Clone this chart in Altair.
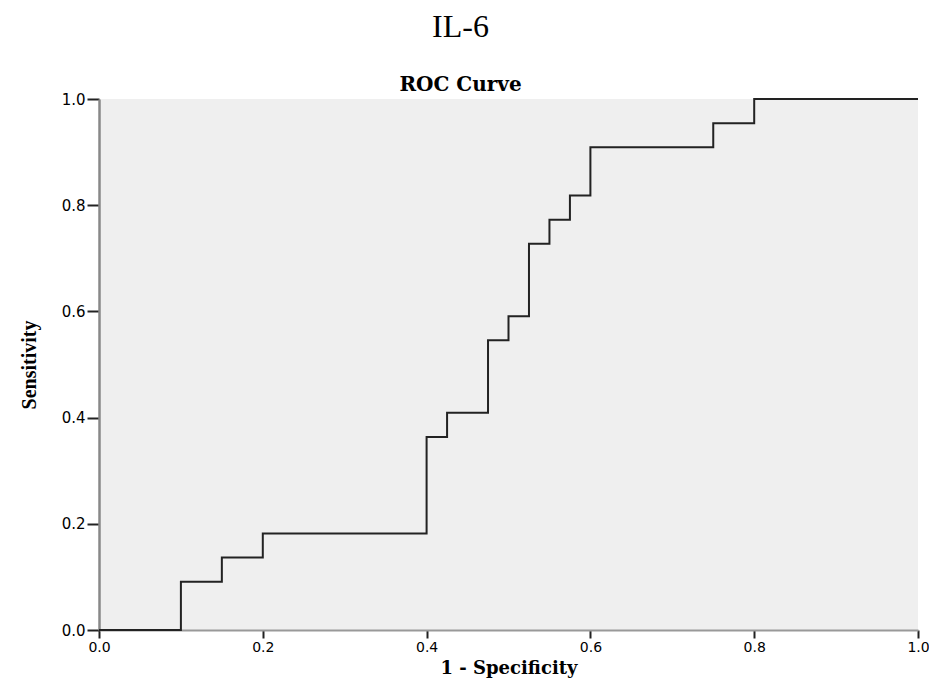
import altair as alt
import pandas as pd

# ROC step points (1 - specificity, sensitivity), step-after
fpr = [0.0, 0.1, 0.15, 0.2, 0.4, 0.425, 0.475, 0.5, 0.525, 0.55, 0.575, 0.6, 0.75, 0.8, 1.0]
tpr = [0.0, 0.0909, 0.1364, 0.1818, 0.3636, 0.4091, 0.5455, 0.5909, 0.7273, 0.7727,
       0.8182, 0.9091, 0.9545, 1.0, 1.0]
ticks = [0.0, 0.2, 0.4, 0.6, 0.8, 1.0]

df = pd.DataFrame({"fpr": fpr, "tpr": tpr, "order": list(range(len(fpr)))})

line = alt.Chart(df).mark_line(
    interpolate="step-after", color="#222222", strokeWidth=2
).encode(
    x=alt.X("fpr:Q", scale=alt.Scale(domain=[0, 1], nice=False),
            axis=alt.Axis(values=ticks, format=".1f", title="1 - Specificity",
                          tickSize=8, labelPadding=2, titlePadding=5,
                          labelFlush=False, labelFontSize=14,
                          domainColor="#999999", domainWidth=2)),
    y=alt.Y("tpr:Q", scale=alt.Scale(domain=[0, 1], nice=False),
            axis=alt.Axis(values=ticks, format=".1f", title="Sensitivity",
                          tickSize=12, labelPadding=2, titlePadding=22,
                          labelFlush=False,
                          domainColor="#888888", domainWidth=2.5)),
    order="order:Q",
)

chart = line.properties(
    width=819,
    height=531,
    autosize=alt.AutoSizeParams(type="none"),
    padding={"left": 91, "top": 91, "right": 11, "bottom": 50},
    title=alt.TitleParams(
        text="IL-6",
        subtitle="ROC Curve",
        anchor="middle",
        dx=-48,
        dy=10,
        font="Liberation Serif",
        fontSize=32,
        fontWeight="normal",
        color="#000000",
        subtitleFont="DejaVu Serif",
        subtitleFontSize=20,
        subtitleFontWeight="bold",
        subtitleColor="#000000",
        subtitlePadding=31,
        offset=6,
    ),
).configure_view(
    fill="#efefef", stroke=None
).configure_axis(
    grid=False,
    labelFont="DejaVu Sans",
    labelFontSize=15,
    labelColor="#000000",
    tickColor="#222222",
    tickWidth=2,
    titleFont="DejaVu Serif",
    titleFontSize=18,
    titleFontWeight="bold",
    titleColor="#000000",
).configure_axisY(
    titleFont="Liberation Serif",
    titleFontSize=20,
)

chart.save("out.html", embed_options={"renderer": "svg", "actions": False})
